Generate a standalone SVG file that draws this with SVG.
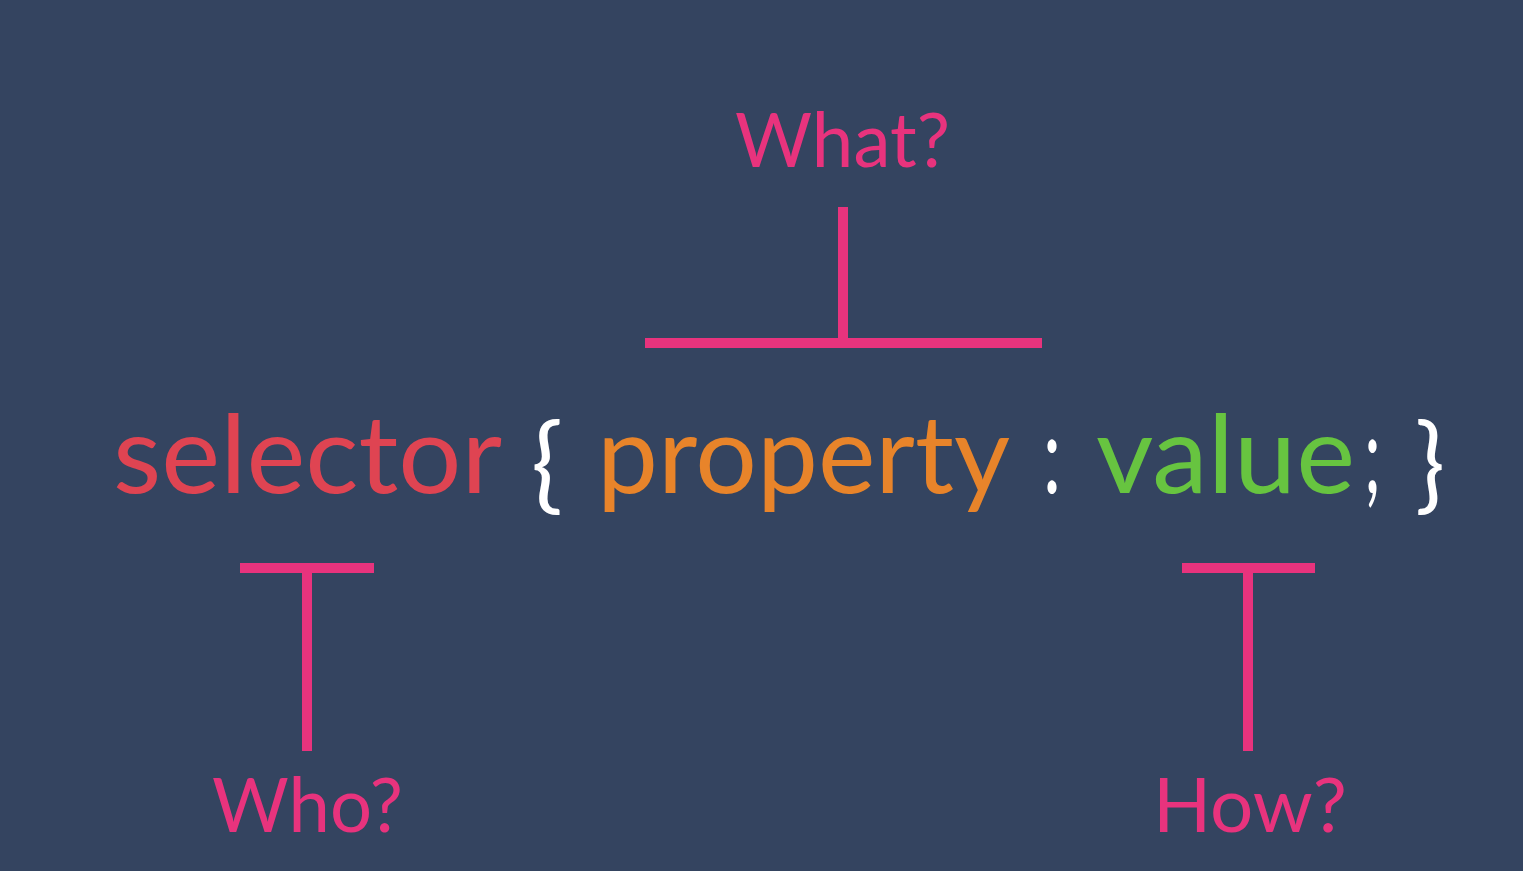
<svg xmlns="http://www.w3.org/2000/svg" width="1523" height="871" viewBox="0 0 1523 871">
  <style>
    .label { font-family: Lato, "Liberation Sans", sans-serif; font-size: 75px; fill: #E8337D; }
    .code { font-family: Lato, "Liberation Sans", sans-serif; font-size: 109px; }
    .brace { font-size: 104px; }
    .sel { fill: #DF4452; }
    .prop { fill: #E8842A; }
    .val { fill: #67C440; }
    .punct { fill: #FFFFFF; }
    .bracket line { stroke: #E8337D; stroke-width: 10; stroke-linecap: butt; }
  </style>
  <rect width="1523" height="871" fill="#344460"/>

  <!-- the CSS rule -->
  <g id="rule">
    <text class="code sel" x="113" y="493" textLength="389" lengthAdjust="spacingAndGlyphs">selector</text>
    <text class="code brace punct" x="531" y="500" textLength="32" lengthAdjust="spacingAndGlyphs">{</text>
    <text class="code prop" x="597" y="493" textLength="413" lengthAdjust="spacingAndGlyphs">property</text>
    <text class="code punct" x="1043" y="493" textLength="18" lengthAdjust="spacingAndGlyphs">:</text>
    <text class="code val" x="1096" y="493" textLength="259" lengthAdjust="spacingAndGlyphs">value</text>
    <text class="code punct" x="1364" y="493" textLength="17" lengthAdjust="spacingAndGlyphs">;</text>
    <text class="code brace punct" x="1415" y="500" textLength="30" lengthAdjust="spacingAndGlyphs">}</text>
  </g>

  <!-- labels -->
  <g id="what">
    <text class="label" x="735" y="167" textLength="215" lengthAdjust="spacingAndGlyphs">What?</text>
  </g>
  <g id="who">
    <text class="label" x="212" y="832" textLength="191" lengthAdjust="spacingAndGlyphs">Who?</text>
  </g>
  <g id="how">
    <text class="label" x="1153" y="832" textLength="194" lengthAdjust="spacingAndGlyphs">How?</text>
  </g>

  <!-- bracket connectors -->
  <g id="connectors" class="bracket">
    <line x1="843" y1="207" x2="843" y2="343"/>
    <line x1="645" y1="343" x2="1042" y2="343"/>
    <line x1="240" y1="568" x2="374" y2="568"/>
    <line x1="307" y1="568" x2="307" y2="751"/>
    <line x1="1182" y1="568" x2="1315" y2="568"/>
    <line x1="1248" y1="568" x2="1248" y2="751"/>
  </g>
</svg>
